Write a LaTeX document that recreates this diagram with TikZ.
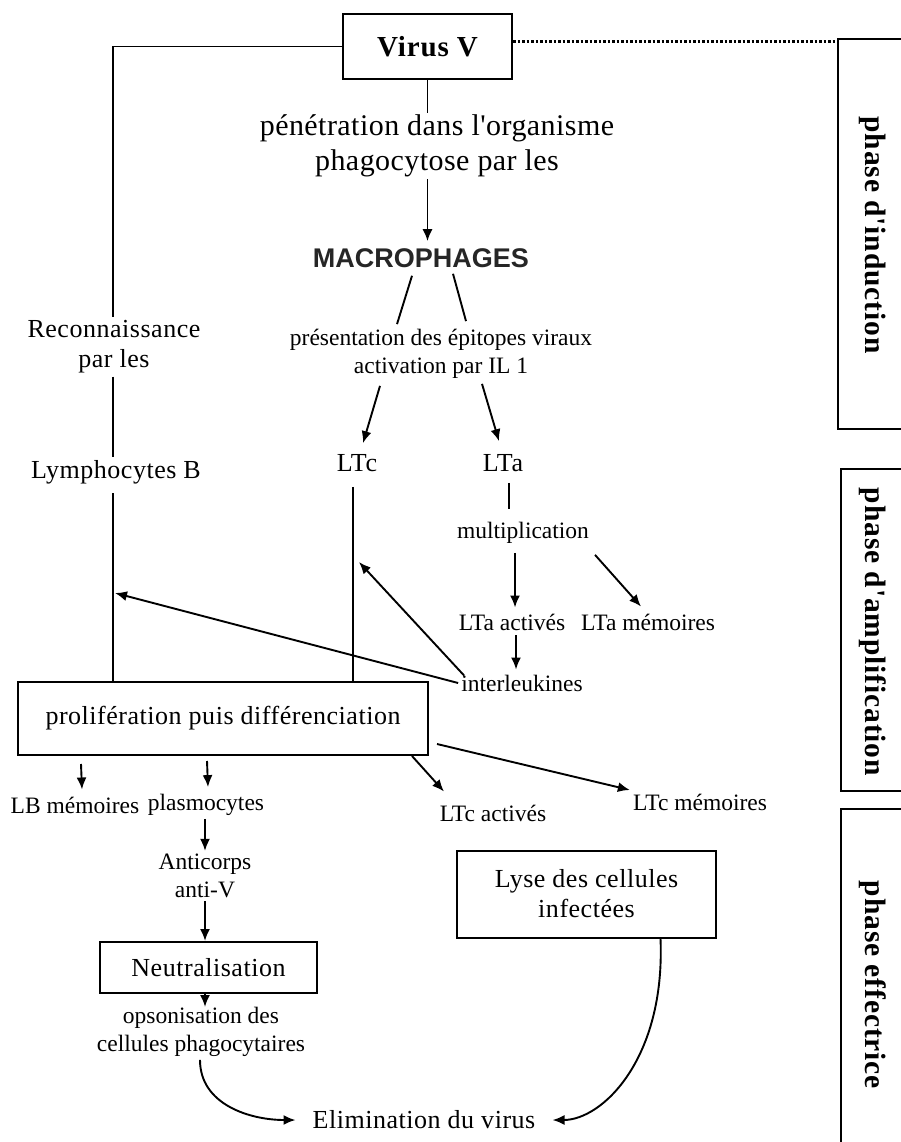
\documentclass[tikz,border=0pt]{standalone}
\usepackage{fontspec}
\setmainfont{Liberation Serif}
\newfontfamily\bigserif[LetterSpace=2]{Liberation Serif}
\newfontfamily\penserif[LetterSpace=1.5]{Liberation Serif}
\newfontfamily\phaseserif[LetterSpace=3]{Liberation Serif}
\newfontfamily\macrofont{Liberation Sans}
\usetikzlibrary{arrows.meta}
\tikzset{
  bigtxt/.style={font=\bigserif\fontsize{26}{30}\selectfont, inner sep=3pt, align=center},
  smalltxt/.style={font=\fontsize{23.5}{28}\selectfont, inner sep=3pt, align=center},
  boxed/.style={draw, line width=2pt},
  phasebox/.style={draw, line width=2pt, anchor=north west, minimum width=100pt},
  phasetxt/.style={font=\phaseserif\bfseries\fontsize{29.5}{30}\selectfont, rotate=-90, inner sep=2pt},
  ln/.style={line width=1.9pt},
  arr/.style={ln, -{Latex[length=12pt,width=10pt]}},
  dotln/.style={line width=2.2pt, dash pattern=on 2.5pt off 2pt}
}
\begin{document}
\begin{tikzpicture}[x=1pt,y=-1pt]
\path[use as bounding box] (0,0) rectangle (901,1142);
\clip (0,0) rectangle (901,1142);
\fill[white] (0,0) rectangle (901,1142);

% phase boxes
\node[phasebox, minimum height=390pt] (ph1) at (837,38) {};
\node[phasebox, minimum height=322pt] (ph2) at (840,468) {};
\node[phasebox, minimum height=400pt] (ph3) at (840,808) {};
\node[phasetxt] (t1) at (873,235) {phase d'induction};
\node[phasetxt] (t2) at (873,632) {phase d'amplification};
\node[phasetxt] (t3) at (873,985) {phase effectrice};

% nodes
\node[boxed, minimum width=169pt, minimum height=65pt, font=\phaseserif\bfseries\fontsize{29}{30}\selectfont] (virus) at (427.5,46.5) {Virus V};
\node[font=\penserif\fontsize{30}{35}\selectfont, align=center, inner sep=2pt] (pen) at (437,146) {pénétration dans l'organisme\\phagocytose par les};
\node[font=\macrofont\bfseries\fontsize{27}{30}\selectfont, text=black!85, inner sep=3pt] (macro) at (421,258) {MACROPHAGES};
\node[smalltxt] (pres) at (441,354) {présentation des épitopes viraux\\activation par IL 1};
\node[bigtxt] (ltc) at (357,463) {LTc};
\node[bigtxt] (lta) at (503,463) {LTa};
\node[smalltxt] (mult) at (523,533) {multiplication};
\node[smalltxt] (ltaact) at (512,622) {LTa activés};
\node[smalltxt] (ltamem) at (648,622) {LTa mémoires};
\node[smalltxt] (il) at (522,683) {interleukines};
\node[bigtxt] (rec) at (114,347) {Reconnaissance\\par les};
\node[bigtxt] (lb) at (116,472) {Lymphocytes B};
\node[boxed, bigtxt, minimum width=410pt, minimum height=73pt] (prolif) at (223,718.5) {prolifération puis différenciation};
\node[smalltxt] (lbmem) at (75,805) {LB mémoires};
\node[smalltxt] (plasmo) at (206,805) {plasmocytes};
\node[smalltxt] (ltcact) at (493,813) {LTc activés};
\node[smalltxt] (ltcmem) at (700,802) {LTc mémoires};
\node[smalltxt] (anti) at (205,876) {Anticorps\\anti-V};
\node[boxed, bigtxt, minimum width=217pt, minimum height=51pt] (neut) at (208.5,967.5) {Neutralisation};
\node[boxed, bigtxt, minimum width=259pt, minimum height=87pt] (lyse) at (586.5,894) {Lyse des cellules\\infectées};
\node[smalltxt] (opso) at (201,1032) {opsonisation des\\cellules phagocytaires};
\node[bigtxt] (elim) at (424,1120) {Elimination du virus};

% coordinates
\coordinate (c1) at (113,46.5);
\coordinate (lbhit) at (115,593);
\coordinate (ltchit) at (359,562);
\coordinate (dv) at ([yshift=5pt]virus.east);

% connectors
\draw[dotln] (dv) -- (dv -| ph1.west);
\draw[ln] (virus.west) -- (c1) -- (c1 |- rec.north);
\draw[ln] (c1 |- rec.south) -- (c1 |- lb.north);
\draw[ln] ([yshift=-6pt]c1 |- lb.south) -- (c1 |- prolif.north);
\draw[ln] (virus.south) -- (virus.south |- pen.north);
\draw[arr] (virus.south |- pen.south) -- ([yshift=4pt]virus.south |- macro.north);
\draw[ln] ([xshift=-9pt,yshift=-5pt]macro.south) -- ([xshift=-44pt,yshift=2pt]pres.north);
\draw[ln] ([xshift=32pt,yshift=-3pt]macro.south) -- ([xshift=25pt,yshift=5pt]pres.north);
\draw[arr] ([xshift=-61pt,yshift=-4pt]pres.south) -- ([xshift=6pt,yshift=8pt]ltc.north);
\draw[arr] ([xshift=41pt,yshift=-2pt]pres.south) -- ([xshift=-4pt,yshift=10pt]lta.north);
\draw[ln] ([xshift=6pt,yshift=-8pt]lta.south) -- ++(0,26);
\draw[arr] ([xshift=-8pt,yshift=-6pt]mult.south) -- ([xshift=3pt,yshift=3pt]ltaact.north);
\draw[arr] ([xshift=72pt,yshift=-8pt]mult.south) -- ([xshift=-7pt,yshift=4pt]ltamem.north);
\draw[arr] ([xshift=4pt,yshift=-2pt]ltaact.south) -- ([xshift=-6pt,yshift=2pt]il.north);
\draw[arr] (il.west) -- (lbhit);
\draw[arr] ([xshift=6pt,yshift=-4pt]il.north west) -- (ltchit);
\draw[ln] ([xshift=-4pt,yshift=-12pt]ltc.south) -- ([xshift=-4pt]ltc.south |- prolif.north);
\draw[arr] ([xshift=64pt,yshift=-8pt]prolif.south west) -- ([xshift=7pt,yshift=4pt]lbmem.north);
\draw[arr] ([xshift=190pt,yshift=-5pt]prolif.south west) -- ([xshift=2pt,yshift=4pt]plasmo.north);
\draw[arr] ([xshift=-17pt]prolif.south east) -- ([xshift=-49pt,yshift=10pt]ltcact.north);
\draw[arr] ([xshift=8pt,yshift=12pt]prolif.south east) -- ([yshift=12pt]ltcmem.west);
\draw[arr] ([xshift=-1pt]plasmo.south) -- (anti.north);
\draw[arr] (anti.south) -- (anti.south |- neut.north);
\draw[arr] (anti.south |- neut.south) -- ++(0,13);
\draw[arr] ([xshift=-1pt]opso.south) .. controls +(0,45) and +(-45,0) .. ([xshift=-14pt]elim.west);
\draw[arr] ([xshift=74pt]lyse.south) .. controls +(5,120) and +(50,0) .. ([xshift=14pt]elim.east);
\end{tikzpicture}
\end{document}
